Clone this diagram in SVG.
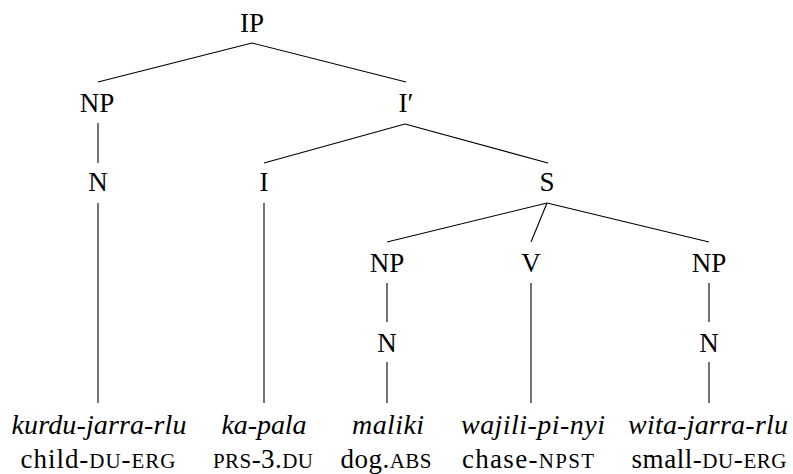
<svg xmlns="http://www.w3.org/2000/svg" width="793" height="474" viewBox="0 0 793 474">
<style>
text{fill:#000;text-anchor:middle}
.n{font-size:27px}
.w{font-size:28px;font-style:italic}
.g{font-size:27px}
.sc{font-size:21px}
#edges line{stroke:#000;stroke-width:1.1}
</style>
<rect width="793" height="474" fill="#fff"/>
<g id="edges">
<line x1="252" y1="43" x2="98" y2="82"/>
<line x1="252" y1="43" x2="406" y2="82"/>
<line x1="98" y1="123" x2="98" y2="163"/>
<line x1="405" y1="124" x2="264" y2="163"/>
<line x1="405" y1="124" x2="548" y2="163"/>
<line x1="98" y1="203" x2="98" y2="403"/>
<line x1="264" y1="203" x2="264" y2="403"/>
<line x1="547" y1="203" x2="387" y2="242"/>
<line x1="547" y1="203" x2="531" y2="242"/>
<line x1="547" y1="203" x2="709" y2="242"/>
<line x1="387" y1="283" x2="387" y2="322"/>
<line x1="387" y1="362" x2="387" y2="403"/>
<line x1="531" y1="283" x2="531" y2="403"/>
<line x1="709" y1="283" x2="709" y2="322"/>
<line x1="709" y1="362" x2="709" y2="403"/>
</g>
<g font-family="Liberation Serif, DejaVu Serif, Times New Roman, serif">
<g id="IP"><text class="n" x="252" y="32">IP</text></g>
<g id="NP1"><text class="n" x="97" y="112">NP</text></g>
<g id="Ibar"><text class="n" x="406" y="112">I′</text></g>
<g id="N1"><text class="n" x="98" y="191">N</text></g>
<g id="I"><text class="n" x="264" y="191">I</text></g>
<g id="S"><text class="n" x="547" y="191">S</text></g>
<g id="NP2"><text class="n" x="387" y="272">NP</text></g>
<g id="V"><text class="n" x="531" y="272">V</text></g>
<g id="NP3"><text class="n" x="709" y="272">NP</text></g>
<g id="N2"><text class="n" x="387" y="352">N</text></g>
<g id="N3"><text class="n" x="709" y="352">N</text></g>
<g id="leaf1">
<text class="w" x="99" y="434" textLength="175" lengthAdjust="spacing">kurdu-jarra-rlu</text>
<text class="g" x="98" y="468" textLength="155" lengthAdjust="spacing">child-<tspan class="sc">DU</tspan>-<tspan class="sc">ERG</tspan></text>
</g>
<g id="leaf2">
<text class="w" x="264" y="434" textLength="85" lengthAdjust="spacing">ka-pala</text>
<text class="g" x="263" y="468" textLength="100" lengthAdjust="spacing"><tspan class="sc">PRS</tspan>-3.<tspan class="sc">DU</tspan></text>
</g>
<g id="leaf3">
<text class="w" x="388" y="434" textLength="72" lengthAdjust="spacing">maliki</text>
<text class="g" x="386" y="468" textLength="91" lengthAdjust="spacing">dog.<tspan class="sc">ABS</tspan></text>
</g>
<g id="leaf4">
<text class="w" x="533" y="434" textLength="144" lengthAdjust="spacing">wajili-pi-nyi</text>
<text class="g" x="528" y="468" textLength="132" lengthAdjust="spacing">chase-<tspan class="sc">NPST</tspan></text>
</g>
<g id="leaf5">
<text class="w" x="708" y="434" textLength="160" lengthAdjust="spacing">wita-jarra-rlu</text>
<text class="g" x="709" y="468" textLength="155" lengthAdjust="spacing">small-<tspan class="sc">DU</tspan>-<tspan class="sc">ERG</tspan></text>
</g>
</g>
</svg>
